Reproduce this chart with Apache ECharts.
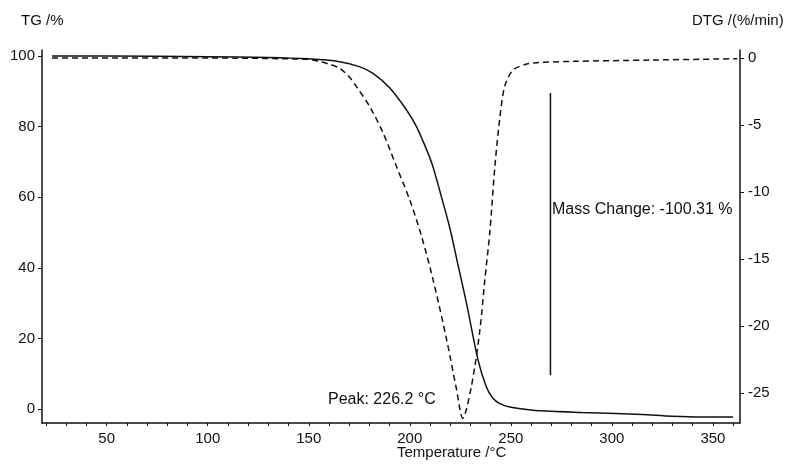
<!DOCTYPE html>
<html>
<head>
<meta charset="utf-8">
<script src="https://cdn.jsdelivr.net/npm/echarts@6/dist/echarts.min.js"></script>
<style>html,body{margin:0;padding:0;background:#fff;}#c{width:793px;height:464px;}</style>
</head>
<body>
<div id="c"></div>
<script>
// TG curve (solid)
var tgTemp = [23, 50, 100, 130, 150, 165.3, 175, 181.8, 190, 198.4, 203.3, 208.3, 211.5, 215, 219.8, 224, 228.1, 233.8, 237.9, 241, 244.6, 249.5, 260, 270, 285, 302, 315, 330, 345, 360];
var tgValues = [100, 100, 99.8, 99.6, 99.2, 98.4, 97, 95.1, 91, 84.7, 80, 73.5, 68.6, 61.5, 51.3, 40.5, 29.9, 13.9, 6.3, 3.2, 1.6, 0.65, -0.2, -0.6, -0.9, -1.2, -1.5, -2.0, -2.2, -2.2];
// DTG curve (dashed)
var dtgTemp = [23, 100, 150, 155, 160, 165.3, 170, 173.6, 180.2, 186.8, 193.4, 200, 205.8, 211.6, 218.2, 223.2, 226.2, 230.5, 234.7, 237.1, 239.6, 242.1, 244.6, 247, 251.1, 257.8, 262.7, 280, 320, 362];
var dtgValues = [0, 0, -0.1, -0.25, -0.45, -0.77, -1.4, -2.14, -3.63, -5.6, -8.1, -10.6, -13.3, -16.6, -21.0, -24.8, -26.9, -24.5, -20.3, -16.6, -13.0, -8.1, -4.4, -2.1, -0.9, -0.45, -0.35, -0.25, -0.15, -0.05];
// Mass change marker
var massChangeTemp = 269.6;
var massChangeRange = [9.6, 89.5];
// Tick labels
var xTicks = [50, 100, 150, 200, 250, 300, 350];
var xMinorTicks = [20, 30, 40, 50, 60, 70, 80, 90, 100, 110, 120, 130, 140, 150, 160, 170, 180, 190, 200, 210, 220, 230, 240, 250, 260, 270, 280, 290, 300, 310, 320, 330, 340, 350, 360];
var tgTicks = [0, 20, 40, 60, 80, 100];
var dtgTicks = [0, -5, -10, -15, -20, -25];
var peakText = 'Peak: 226.2 °C';
var massText = 'Mass Change: -100.31 %';

function zip(a, b) { return a.map(function (v, i) { return [v, b[i]]; }); }

var font = '"Liberation Sans", Arial, sans-serif';
var ink = '#111';
var chart = echarts.init(document.getElementById('c'), null, {renderer: 'canvas'});
chart.setOption({
  animation: false,
  backgroundColor: '#fff',
  grid: {left: 42, right: 53, top: 50, bottom: 41, containLabel: false},
  xAxis: {
    type: 'value', min: 18, max: 363.4,
    axisLine: {show: true, onZero: false, lineStyle: {color: ink, width: 1.5}},
    axisTick: {show: true, inside: false, length: 3, customValues: xMinorTicks, lineStyle: {color: ink}},
    axisLabel: {customValues: xTicks, margin: 8, color: ink, fontSize: 15, fontFamily: font},
    splitLine: {show: false}
  },
  yAxis: [{
    type: 'value', min: -3.9, max: 101.7, position: 'left',
    axisLine: {show: true, lineStyle: {color: ink, width: 1.5}},
    axisTick: {show: true, length: 4, customValues: tgTicks, lineStyle: {color: ink}},
    axisLabel: {customValues: tgTicks, margin: 7, color: ink, fontSize: 15, fontFamily: font},
    splitLine: {show: false}
  }, {
    type: 'value', min: -27.25, max: 0.6, position: 'right',
    axisLine: {show: true, lineStyle: {color: ink, width: 1.5}},
    axisTick: {show: true, length: 4, customValues: dtgTicks, lineStyle: {color: ink}},
    axisLabel: {customValues: dtgTicks, margin: 8, color: ink, fontSize: 15, fontFamily: font},
    splitLine: {show: false}
  }],
  series: [{
    type: 'line', yAxisIndex: 0, data: zip(tgTemp, tgValues),
    smooth: 0.3, showSymbol: false,
    lineStyle: {color: ink, width: 1.5}
  }, {
    type: 'line', yAxisIndex: 1, data: zip(dtgTemp, dtgValues),
    smooth: 0.3, showSymbol: false,
    lineStyle: {color: ink, width: 1.5, type: [6, 4]}
  }, {
    type: 'line', yAxisIndex: 0,
    data: [[massChangeTemp, massChangeRange[0]], [massChangeTemp, massChangeRange[1]]],
    showSymbol: false, lineStyle: {color: ink, width: 1.5}
  }],
  graphic: [
    {type: 'text', left: 21, top: 13, style: {text: 'TG /%', font: '15px ' + font, fill: ink}},
    {type: 'text', left: 692, top: 13, style: {text: 'DTG /(%/min)', font: '15px ' + font, fill: ink}},
    {type: 'text', left: 397, top: 445, style: {text: 'Temperature /°C', font: '15px ' + font, fill: ink}},
    {type: 'text', left: 328, top: 392, style: {text: peakText, font: '16px ' + font, fill: ink}},
    {type: 'text', left: 552, top: 202, style: {text: massText, font: '16px ' + font, fill: ink}}
  ]
});
</script>
</body>
</html>
